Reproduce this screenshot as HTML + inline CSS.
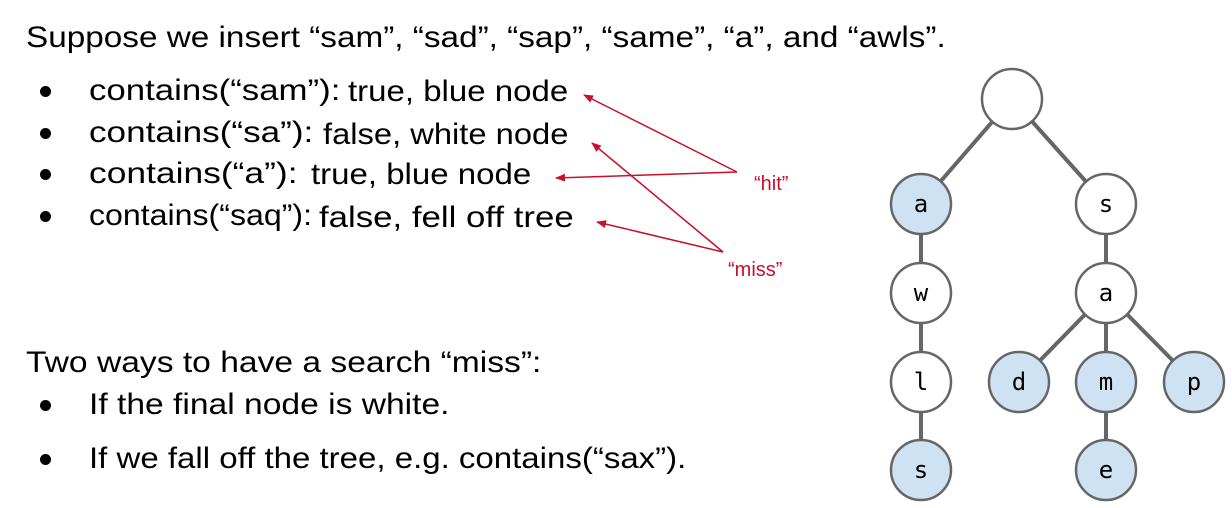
<!DOCTYPE html>
<html><head><style>
body{margin:0;width:1232px;height:508px;background:#fff;position:relative;overflow:hidden;font-family:"Liberation Sans",sans-serif;color:#000}
.t{position:absolute;font-size:30px;white-space:nowrap;line-height:30px;transform-origin:left center}
.b{position:absolute;width:11px;height:11px;border-radius:50%;background:#000}
</style></head><body>
<div class="t" style="left:26px;top:23px;transform:scaleX(1.11)">Suppose we insert “sam”, “sad”, “sap”, “same”, “a”, and “awls”.</div>
<div class="b" style="left:40px;top:86px"></div><div class="t" style="left:89px;top:76px;transform:scaleX(1.16)">contains(“sam”):</div><div class="t" style="left:348px;top:77px;transform:scaleX(1.10)">true, blue node</div>
<div class="b" style="left:40px;top:128px"></div><div class="t" style="left:89px;top:118px;transform:scaleX(1.17)">contains(“sa”):</div><div class="t" style="left:323px;top:120px;transform:scaleX(1.09)">false, white node</div>
<div class="b" style="left:40px;top:169px"></div><div class="t" style="left:89px;top:159px;transform:scaleX(1.18)">contains(“a”):</div><div class="t" style="left:311px;top:160px;transform:scaleX(1.10)">true, blue node</div>
<div class="b" style="left:40px;top:211px"></div><div class="t" style="left:89px;top:201px;transform:scaleX(1.07)">contains(“saq”):</div><div class="t" style="left:319px;top:203px;transform:scaleX(1.16)">false, fell off tree</div>
<div class="t" style="left:26px;top:348px;transform:scaleX(1.12)">Two ways to have a search “miss”:</div>
<div class="b" style="left:40px;top:400px"></div><div class="t" style="left:89px;top:390px;transform:scaleX(1.12)">If the final node is white.</div>
<div class="b" style="left:40px;top:454px"></div><div class="t" style="left:89px;top:444px;transform:scaleX(1.10)">If we fall off the tree, e.g. contains(“sax”).</div>
<svg width="1232" height="508" style="position:absolute;left:0;top:0">
<defs><marker id="ah" markerWidth="10" markerHeight="8" refX="9" refY="4" orient="auto" markerUnits="userSpaceOnUse"><path d="M0,0L10,4L0,8z" fill="#c8102e"/></marker></defs>
<g stroke="#c8102e" stroke-width="1.5" marker-end="url(#ah)">
<line x1="737" y1="172" x2="584" y2="95"/>
<line x1="737" y1="172" x2="556" y2="178"/>
<line x1="723" y1="252" x2="592" y2="143"/>
<line x1="723" y1="252" x2="597" y2="222"/>
</g>
<g fill="#c8102e" font-family="Liberation Sans,sans-serif" font-size="20">
<text x="754" y="190">“hit”</text><text x="728" y="276">“miss”</text></g>
<g stroke="#666" stroke-width="4">
<line x1="1012" y1="99" x2="921" y2="204"/><line x1="1012" y1="99" x2="1106" y2="204"/>
<line x1="921" y1="204" x2="921" y2="470"/><line x1="1106" y1="204" x2="1106" y2="293"/>
<line x1="1106" y1="293" x2="1019" y2="382"/><line x1="1106" y1="293" x2="1194" y2="382"/>
<line x1="1106" y1="293" x2="1106" y2="470"/>
</g>
<g stroke="#666" stroke-width="2.5">
<circle cx="1012" cy="99" r="30" fill="#fff"/>
<circle cx="921" cy="204" r="30" fill="#cfe2f3"/>
<circle cx="1106" cy="204" r="30" fill="#fff"/>
<circle cx="921" cy="293" r="30" fill="#fff"/>
<circle cx="1106" cy="293" r="30" fill="#fff"/>
<circle cx="921" cy="382" r="30" fill="#fff"/>
<circle cx="1019" cy="382" r="30" fill="#cfe2f3"/>
<circle cx="1106" cy="382" r="30" fill="#cfe2f3"/>
<circle cx="1194" cy="382" r="30" fill="#cfe2f3"/>
<circle cx="921" cy="470" r="30" fill="#cfe2f3"/>
<circle cx="1106" cy="470" r="30" fill="#cfe2f3"/>
</g>
<g font-family="DejaVu Sans Mono,monospace" font-size="24" text-anchor="middle">
<text x="921" y="212">a</text><text x="1106" y="212">s</text>
<text x="921" y="301">w</text><text x="1106" y="301">a</text>
<text x="921" y="390">l</text><text x="1019" y="390">d</text><text x="1106" y="390">m</text><text x="1194" y="390">p</text>
<text x="921" y="478">s</text><text x="1106" y="478">e</text>
</g>
</svg>
</body></html>
